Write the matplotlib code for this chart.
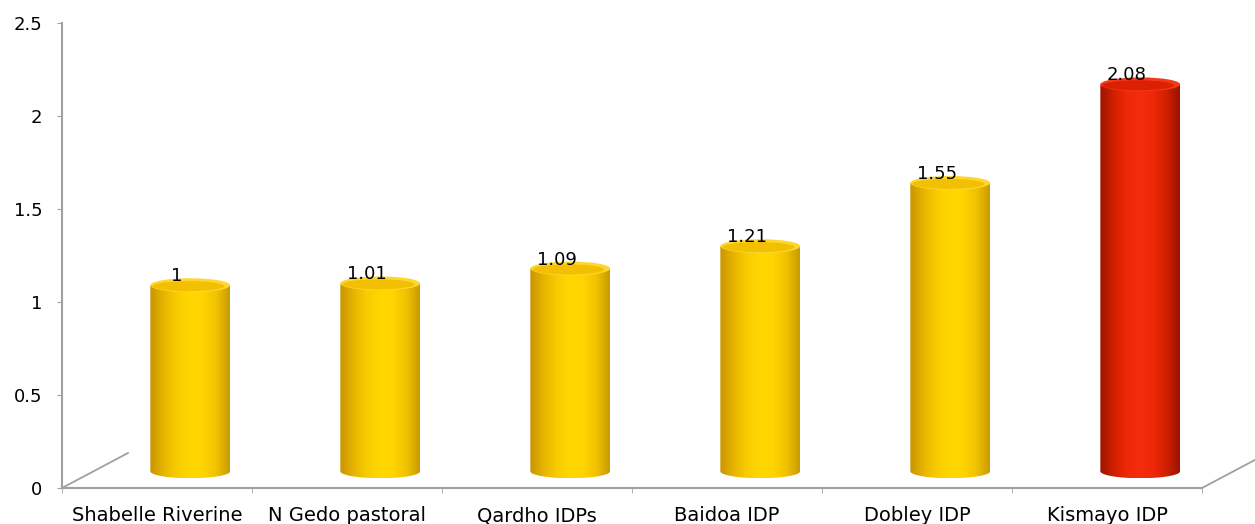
import numpy as np
import matplotlib
matplotlib.use("Agg")
import matplotlib.pyplot as plt
from matplotlib.path import Path
from matplotlib.patches import PathPatch, Ellipse
from matplotlib.colors import LinearSegmentedColormap

# Data
categories = ["Shabelle Riverine", "N Gedo pastoral", "Qardho IDPs",
              "Baidoa IDP", "Dobley IDP", "Kismayo IDP"]
values = [1.00, 1.01, 1.09, 1.21, 1.55, 2.08]
bar_kind = ["yellow", "yellow", "yellow", "yellow", "yellow", "red"]
y_ticks = [0, 0.5, 1, 1.5, 2, 2.5]
y_tick_labels = ["0", "0.5", "1", "1.5", "2", "2.5"]

plt.rcParams["font.family"] = ["DejaVu Sans"]

W, H = 1255, 524
fig = plt.figure(figsize=(W / 100, H / 100), dpi=100)
ax = fig.add_axes([62 / W, 36 / H, (1202 - 62) / W, (488 - 23) / H])
ax.set_xlim(-0.5, 5.5)
ax.set_ylim(0, 2.5)

# cylinder shading (left -> right across the face)
shades = {
    "yellow": LinearSegmentedColormap.from_list(
        "cyl_y", ["#C99400", "#E6B400", "#F8CC00", "#FFD700", "#FFD400",
                  "#F0C200", "#C89A00"]),
    "red": LinearSegmentedColormap.from_list(
        "cyl_r", ["#9C1400", "#CF2000", "#EE2808", "#F52C0C", "#EE2808",
                  "#D02000", "#9A1200"]),
}
cap_colors = {
    "yellow": ("#F2C000", "#FDD630"),
    "red": ("#DC2004", "#F23A18"),
}

bar_w = 0.42          # cylinder diameter in category units
x_shift = 0.175       # depth offset of the bar row
base = 0.09           # depth offset in value units
eh = 0.075            # ellipse height in value units

grad = np.linspace(0, 1, 256).reshape(1, -1)

for i, (v, kind) in enumerate(zip(values, bar_kind)):
    xc = i + x_shift
    x0, x1 = xc - bar_w / 2, xc + bar_w / 2
    yb, yt = base, base + v
    # outline: lower half of base ellipse, then straight sides to the top
    t = np.linspace(np.pi, 2 * np.pi, 60)
    bx = xc + bar_w / 2 * np.cos(t)
    by = yb + eh / 2 * np.sin(t)
    verts = list(zip(bx, by)) + [(x1, yt), (x0, yt), (x0, yb)]
    codes = [Path.MOVETO] + [Path.LINETO] * (len(verts) - 2) + [Path.CLOSEPOLY]
    body = PathPatch(Path(verts, codes), facecolor="none", edgecolor="none",
                     transform=ax.transData)
    ax.add_patch(body)
    im = ax.imshow(grad, cmap=shades[kind], aspect="auto",
                   extent=[x0, x1, yb - eh / 2, yt], interpolation="bilinear",
                   zorder=2)
    im.set_clip_path(body)
    # top cap
    fill, rim = cap_colors[kind]
    ax.add_patch(Ellipse((xc, yt), bar_w, eh, facecolor=rim, edgecolor="none",
                         zorder=3))
    ax.add_patch(Ellipse((xc - 0.01, yt - 0.005), bar_w * 0.9, eh * 0.72,
                         facecolor=fill, edgecolor="none", zorder=3))
    # value label
    ax.text(xc - 0.07, yt + 0.048, f"{v:g}", ha="center", va="center",
            fontsize=13, color="black", zorder=5)

# floor depth lines
ax.plot([-0.5, -0.5 + 0.347], [0, 0.188], color="#A0A0A0", lw=1.3,
        clip_on=False, zorder=1)
ax.plot([5.5, 5.5 + 0.347], [0, 0.188], color="#A0A0A0", lw=1.3,
        clip_on=False, zorder=1)

for side in ("top", "right"):
    ax.spines[side].set_visible(False)
for side in ("left", "bottom"):
    ax.spines[side].set_color("#A0A0A0")
    ax.spines[side].set_linewidth(1.5)

ax.set_yticks(y_ticks)
ax.set_yticklabels(y_tick_labels, fontsize=13)
ax.tick_params(axis="y", length=3.6, color="#A0A0A0", pad=10.5)
ax.set_xticks(range(len(categories)))
ax.set_xticklabels(categories, fontsize=14)
ax.tick_params(axis="x", which="major", length=0, pad=13)
ax.set_xticks(np.arange(-0.5, 6, 1), minor=True)
ax.tick_params(axis="x", which="minor", length=3.6, color="#A0A0A0")

fig.savefig("out.png", dpi=100)
